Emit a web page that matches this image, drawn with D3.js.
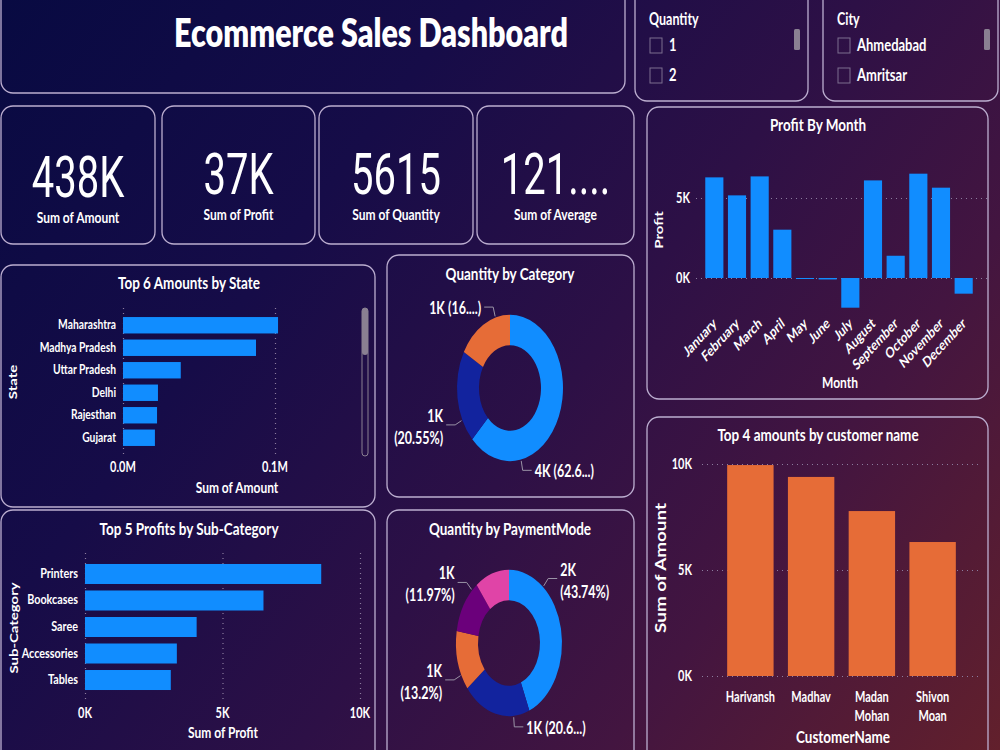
<!DOCTYPE html>
<html>
<head>
<meta charset="utf-8">
<script src="https://cdn.jsdelivr.net/npm/d3@7"></script>
<style>
  body { margin: 0; background: #0d0b40; }
  svg { display: block; }
</style>
</head>
<body>
<div id="dash"></div>
<script>
// ---- data ----
var kpiValues = ["438K", "37K", "5615", "121...."];
var kpiLabels = ["Sum of Amount", "Sum of Profit", "Sum of Quantity", "Sum of Average"];

var quantityItems = ["1", "2"];
var cityItems = ["Ahmedabad", "Amritsar"];

var months = ["January", "February", "March", "April", "May", "June", "July",
              "August", "September", "October", "November", "December"];
var monthProfit = [6290, 5165, 6350, 3020, -60, -90, -1856, 6100, 1390, 6520, 5645, -980];

var states = ["Maharashtra", "Madhya Pradesh", "Uttar Pradesh", "Delhi", "Rajesthan", "Gujarat"];
var stateAmount = [102000, 87500, 38000, 23000, 22400, 21000];

var subCats = ["Printers", "Bookcases", "Saree", "Accessories", "Tables"];
var subProfit = [8590, 6490, 4060, 3340, 3120];

var categories = ["Clothing", "Electronics", "Furniture"];
var categoryQty = [3516, 1154, 945];

var payModes = ["COD", "UPI", "Debit Card", "Credit Card", "EMI"];
var payQty = [2456, 1160, 741, 672, 586];

var customers = ["Harivansh", "Madhav", "Madan Mohan", "Shivon Moan"];
var custAmount = [9950, 9390, 7780, 6320];

// ---- setup ----
var W = 1000, H = 750;
var K = 1.3;        // the picture is stretched vertically, text follows it
var FONT = "Lato, 'Open Sans', sans-serif";
var BLUE = "#118DFF";
var pieColors = ["#118DFF", "#12239E", "#E66C37", "#6B007B", "#E044A7"];

var svg = d3.select("#dash").append("svg").attr("width", W).attr("height", H);

var defs = svg.append("defs");
var grad = defs.append("linearGradient").attr("id", "bg")
    .attr("gradientUnits", "userSpaceOnUse")
    .attr("x1", 0).attr("y1", 0).attr("x2", W).attr("y2", H);
[["0", "#080a42"], ["0.3", "#160c48"], ["0.55", "#2d1046"], ["0.75", "#431540"], ["1", "#62202c"]]
  .forEach(function (s) { grad.append("stop").attr("offset", s[0]).attr("stop-color", s[1]); });

svg.append("rect").attr("width", W).attr("height", H).attr("fill", "url(#bg)");

function panel(x, y, w, h) {
  svg.append("rect").attr("x", x).attr("y", y).attr("width", w).attr("height", h)
    .attr("rx", 12).attr("fill", "none")
    .attr("stroke", "#bcaed0").attr("stroke-width", 1.3);
}

// text with the vertical stretch applied
function label(x, y, s, o) {
  o = o || {};
  return svg.append("text")
    .attr("transform", "translate(" + x + "," + y + ") scale(1," + (o.k || K) + ") rotate(" + (o.rot || 0) + ")")
    .attr("text-anchor", o.anchor || "middle")
    .style("font-family", o.family || FONT)
    .style("font-weight", o.weight || 700)
    .style("font-size", (o.size || 11) + "px")
    .attr("fill", o.fill || "#ffffff")
    .text(s);
}

function dotted(sel) {
  sel.select(".domain").remove();
  sel.selectAll("line").attr("stroke", "#8c7c9e").attr("stroke-width", 1.2)
    .attr("stroke-dasharray", "1,4");
}

// ---- header ----
panel(1, -12, 624, 105);
label(371, 47, "Ecommerce Sales Dashboard", {size: 30.5, weight: 800});

// slicers
function slicer(x, w, title, items) {
  panel(x, -12, w, 113);
  label(x + 14, 25, title, {anchor: "start", size: 12.5});
  items.forEach(function (it, i) {
    svg.append("rect").attr("x", x + 15).attr("y", 38 + i * 30).attr("width", 12).attr("height", 15)
      .attr("fill", "none").attr("stroke", "#7d6f8f").attr("stroke-width", 1);
    label(x + 34, 51 + i * 30, it, {anchor: "start", size: 13});
  });
  svg.append("rect").attr("x", x + w - 14).attr("y", 29).attr("width", 6).attr("height", 21)
    .attr("rx", 1.5).attr("fill", "#8a8092");
}
slicer(635, 173, "Quantity", quantityItems);
slicer(823, 175, "City", cityItems);

// ---- KPI cards ----
var cards = [[1, 154], [162, 153], [319, 154], [477, 157]];
cards.forEach(function (c, i) {
  panel(c[0], 106, c[1], 138);
  var cx = c[0] + c[1] / 2;
  label(cx, i === 0 ? 197 : 194, kpiValues[i], {size: 40, weight: 400, family: "Roboto, sans-serif", k: 1.45});
  label(cx, i === 0 ? 223 : 220, kpiLabels[i], {size: 12});
});

// ---- Top 6 Amounts by State ----
panel(1, 265, 374, 242);
label(189, 289, "Top 6 Amounts by State", {size: 13.5});
(function () {
  var x = d3.scaleLinear().domain([0, 100000]).range([123, 275]);
  var y = d3.scaleBand().domain(states).range([314, 449]).paddingInner(0.27).paddingOuter(0.135);
  svg.append("g").attr("transform", "translate(0,308)")
    .call(d3.axisBottom(x).tickValues([0, 100000]).tickSize(148).tickFormat(""))
    .call(dotted);
  svg.append("g").selectAll("rect").data(states).join("rect")
    .attr("x", x(0)).attr("y", function (d) { return y(d); })
    .attr("width", function (d, i) { return x(stateAmount[i]) - x(0); })
    .attr("height", y.bandwidth()).attr("fill", BLUE);
  states.forEach(function (s) { label(116, y(s) + y.bandwidth() / 2 + 4, s, {anchor: "end", size: 10.3}); });
  [0, 100000].forEach(function (v) { label(x(v), 472, d3.format(".1f")(v / 1e6) + "M", {size: 11}); });
  label(237, 493, "Sum of Amount", {size: 12});
  label(17, 382, "State", {size: 11.5, rot: -90});
  // scroll bar
  svg.append("rect").attr("x", 362).attr("y", 308).attr("width", 6).attr("height", 148).attr("rx", 3)
    .attr("fill", "none").attr("stroke", "#8a8092").attr("stroke-width", 1);
  svg.append("rect").attr("x", 362).attr("y", 308).attr("width", 6).attr("height", 47).attr("rx", 3)
    .attr("fill", "#8a8092");
})();

// ---- Top 5 Profits by Sub-Category ----
panel(1, 510, 374, 260);
label(189, 535, "Top 5 Profits by Sub-Category", {size: 13.5});
(function () {
  var x = d3.scaleLinear().domain([0, 10000]).range([85, 360]);
  var y = d3.scaleBand().domain(subCats).range([560.8, 693.2]).paddingInner(0.245).paddingOuter(0.12);
  svg.append("g").attr("transform", "translate(0,553)")
    .call(d3.axisBottom(x).tickValues([0, 5000, 10000]).tickSize(149).tickFormat(""))
    .call(dotted);
  svg.append("g").selectAll("rect").data(subCats).join("rect")
    .attr("x", x(0)).attr("y", function (d) { return y(d); })
    .attr("width", function (d, i) { return x(subProfit[i]) - x(0); })
    .attr("height", y.bandwidth()).attr("fill", BLUE);
  subCats.forEach(function (s) { label(78, y(s) + y.bandwidth() / 2 + 4, s, {anchor: "end", size: 10.8}); });
  [0, 5000, 10000].forEach(function (v) { label(x(v), 718, (v / 1000) + "K", {size: 11}); });
  label(223, 738, "Sum of Profit", {size: 12});
  label(18, 628, "Sub-Category", {size: 11.5, rot: -90});
})();

// ---- donuts ----
var SY = 1.38, R0 = 31, R1 = 53;
function donut(cx, cy, values, labels) {
  var total = d3.sum(values);
  var pie = d3.pie().sort(null)(values);
  var arc = d3.arc().innerRadius(R0).outerRadius(R1);
  svg.append("g").attr("transform", "translate(" + cx + "," + cy + ") scale(1," + SY + ")")
    .selectAll("path").data(pie).join("path")
    .attr("d", arc).attr("fill", function (d, i) { return pieColors[i]; });
  labels.forEach(function (l) {
    var v = values[l.slice];
    var kTxt = Math.round(v / 1000) + "K";
    var pct = "(" + d3.format(".2~f")(v / total * 100) + "%)";
    var a = l.angle * Math.PI / 180;
    var sx = cx + (R1 + 1) * Math.sin(a), sy = cy - (R1 + 1) * Math.cos(a) * SY;
    var ex = cx + (R1 + 8) * Math.sin(a), ey = cy - (R1 + 8) * Math.cos(a) * SY;
    var tx = ex + l.side * 9;
    svg.append("polyline").attr("points", [[sx, sy], [ex, ey], [tx, ey]].join(" "))
      .attr("fill", "none").attr("stroke", "#9a93a6").attr("stroke-width", 1);
    var anchor = l.side > 0 ? "start" : "end";
    if (l.trunc) {
      var full = kTxt + " " + pct;
      label(tx + l.side * 3, ey + 7, full.slice(0, l.trunc) + "...)", {anchor: anchor, size: 12.5});
    } else {
      label(tx + l.side * 3, ey - 3, kTxt, {anchor: anchor, size: 12.5});
      label(tx + l.side * 3, ey + 19, pct, {anchor: anchor, size: 12.5});
    }
  });
}

panel(387, 255, 247, 242);
label(510, 280, "Quantity by Category", {size: 13.5});
donut(510, 388, categoryQty, [
  {slice: 2, angle: 344, side: -1, trunc: 7},
  {slice: 1, angle: 244, side: -1},
  {slice: 0, angle: 168, side: 1, trunc: 8}
]);

panel(387, 510, 247, 260);
label(510, 535, "Quantity by PaymentMode", {size: 13.5});
donut(509, 643, payQty, [
  {slice: 0, angle: 40, side: 1},
  {slice: 3, angle: 316, side: -1},
  {slice: 2, angle: 244, side: -1},
  {slice: 1, angle: 175, side: 1, trunc: 8}
]);

// ---- Profit By Month ----
panel(647, 107, 341, 292);
label(818, 131, "Profit By Month", {size: 13.5});
(function () {
  var x = d3.scaleBand().domain(months).range([703, 975]).paddingInner(0.2).paddingOuter(0.1);
  var y = d3.scaleLinear().domain([-2500, 7500]).range([318, 158]);
  svg.append("g").attr("transform", "translate(696,0)")
    .call(d3.axisRight(y).tickValues([0, 5000]).tickSize(294).tickFormat(""))
    .call(dotted);
  svg.append("g").selectAll("rect").data(months).join("rect")
    .attr("x", function (d) { return x(d); })
    .attr("y", function (d, i) { return y(Math.max(0, monthProfit[i])); })
    .attr("width", x.bandwidth())
    .attr("height", function (d, i) { return Math.max(1, Math.abs(y(monthProfit[i]) - y(0))); })
    .attr("fill", BLUE);
  [0, 5000].forEach(function (v) { label(690, y(v) + 5, (v / 1000) + "K", {anchor: "end", size: 11}); });
  months.forEach(function (m) {
    label(x(m) + x.bandwidth() / 2 + 3, 325, m, {anchor: "end", size: 11.3, rot: -40});
  });
  label(840, 388, "Month", {size: 12});
  label(663, 230, "Profit", {size: 11.5, rot: -90});
})();

// ---- Top 4 amounts by customer name ----
panel(647, 417, 341, 353);
label(818, 441, "Top 4 amounts by customer name", {size: 13.5});
(function () {
  var x = d3.scaleBand().domain(customers).range([720, 963]).paddingInner(0.236).paddingOuter(0.118);
  var y = d3.scaleLinear().domain([0, 10000]).range([676, 464]);
  svg.append("g").attr("transform", "translate(702,0)")
    .call(d3.axisRight(y).tickValues([0, 5000, 10000]).tickSize(280).tickFormat(""))
    .call(dotted);
  svg.append("g").selectAll("rect").data(customers).join("rect")
    .attr("x", function (d) { return x(d); })
    .attr("y", function (d, i) { return y(custAmount[i]); })
    .attr("width", x.bandwidth())
    .attr("height", function (d, i) { return y(0) - y(custAmount[i]); })
    .attr("fill", "#E66C37");
  [0, 5000, 10000].forEach(function (v) { label(692, y(v) + 5, (v / 1000) + "K", {anchor: "end", size: 11}); });
  customers.forEach(function (c) {
    c.split(" ").forEach(function (w, j) {
      label(x(c) + x.bandwidth() / 2, 702 + j * 19, w, {size: 11});
    });
  });
  label(843, 743, "CustomerName", {size: 13.5});
  label(666, 568, "Sum of Amount", {size: 14.5, rot: -90});
})();
</script>
</body>
</html>
